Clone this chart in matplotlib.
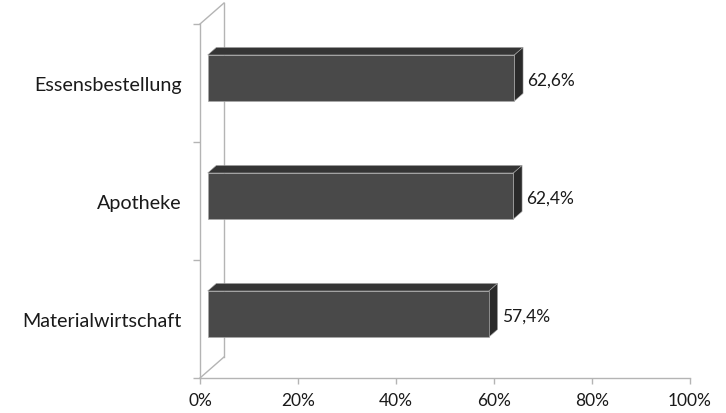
import matplotlib.pyplot as plt
from matplotlib.patches import Polygon

# Anteile je Bereich (von unten nach oben)
categories = ['Materialwirtschaft', 'Apotheke', 'Essensbestellung']
values = [57.4, 62.4, 62.6]
value_labels = ['57,4%', '62,4%', '62,6%']
x_ticks = [0, 20, 40, 60, 80, 100]
x_tick_labels = ['0%', '20%', '40%', '60%', '80%', '100%']

plt.rcParams['font.family'] = ['Lato', 'DejaVu Sans']

W, H = 726, 414
fig = plt.figure(figsize=(W / 100, H / 100), dpi=100)
ax = fig.add_axes([200 / W, 35 / H, 490 / W, 354 / H])
ax.set_xlim(0, 100)
ax.set_ylim(0, len(categories))

# depth of the pseudo-3D box in data units
DX = 24 / 4.9
DY = 21 / 118.0
bar_h = 0.39
d0, d1 = 0.32, 0.68
bar_lift = 5 / 118.0

axis_col = '#b4b4b4'
front_col = '#494949'
top_col = '#353535'
side_col = '#2a2a2a'
edge_col = '#a8a8a8'

# walls / floor edges
n = len(categories)
ax.plot([0, 0], [0, n], color=axis_col, lw=1.0, clip_on=False)
ax.plot([DX, DX], [DY, n + DY], color=axis_col, lw=1.0, clip_on=False)
ax.plot([0, DX], [0, DY], color=axis_col, lw=1.0, clip_on=False)
ax.plot([0, DX], [n, n + DY], color=axis_col, lw=1.0, clip_on=False)
ax.plot([0, 100], [0, 0], color=axis_col, lw=1.0, clip_on=False)

for i, (v, lab) in enumerate(zip(values, value_labels)):
    yc = i + 0.5
    x0 = DX * d0
    x1 = v + DX * d0
    y0 = yc - bar_h / 2 + bar_lift
    y1 = yc + bar_h / 2 + bar_lift
    ddx = DX * (d1 - d0)
    ddy = DY * (d1 - d0)
    top = Polygon([(x0, y1), (x1, y1), (x1 + ddx, y1 + ddy), (x0 + ddx, y1 + ddy)],
                  closed=True, fc=top_col, ec=edge_col, lw=0.4, clip_on=False, zorder=3)
    side = Polygon([(x1, y0), (x1, y1), (x1 + ddx, y1 + ddy), (x1 + ddx, y0 + ddy)],
                   closed=True, fc=side_col, ec=edge_col, lw=0.4, clip_on=False, zorder=3)
    front = Polygon([(x0, y0), (x1, y0), (x1, y1), (x0, y1)],
                    closed=True, fc=front_col, ec=edge_col, lw=0.5, clip_on=False, zorder=4)
    for p in (top, side, front):
        ax.add_patch(p)
    ax.text(x1 + ddx + 0.9, yc + 0.03, lab, ha='left', va='center',
            fontsize=12.5, color='#1a1a1a')

for s in ax.spines.values():
    s.set_visible(False)

ax.set_xticks(x_ticks)
ax.set_xticklabels(x_tick_labels, fontsize=12.5, color='#1a1a1a')
ax.tick_params(axis='x', length=4, width=1, color=axis_col, pad=6)

ax.set_yticks([i + 0.5 for i in range(n)])
ax.set_yticklabels(categories, fontsize=14.2, color='#1a1a1a')
ax.set_yticks(range(n + 1), minor=True)
ax.tick_params(axis='y', which='major', length=0, pad=13)
ax.tick_params(axis='y', which='minor', length=5, width=1, color=axis_col)

fig.savefig('out.png', dpi=100)
